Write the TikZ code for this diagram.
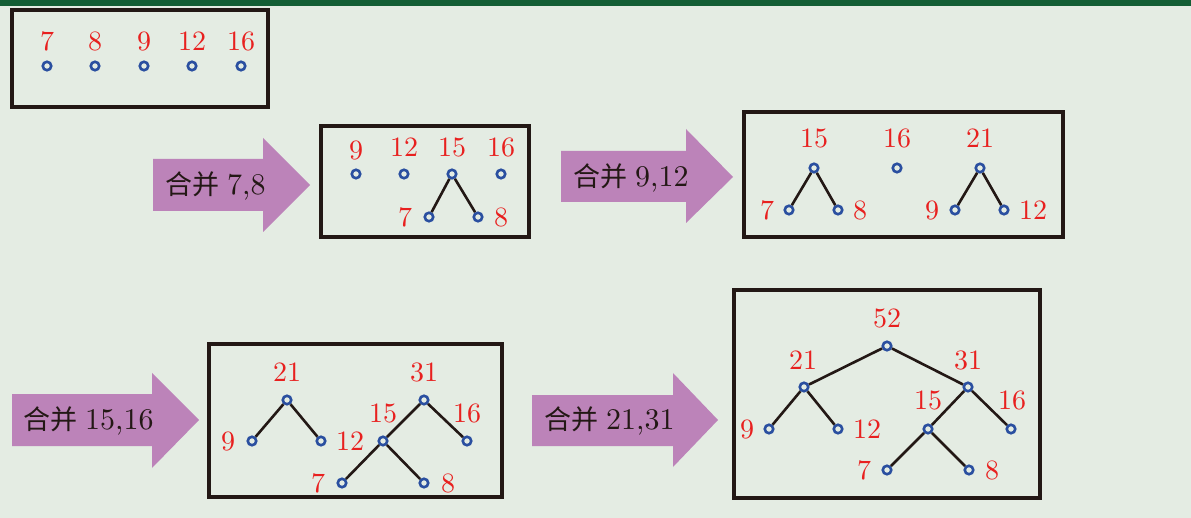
\documentclass[tikz,border=0pt]{standalone}
\usepackage{fontspec}
\newfontfamily\cjk{Noto Sans CJK SC}
\newfontfamily\lmten{lmroman10-regular.otf}
\definecolor{bg}{HTML}{E4ECE3}
\definecolor{topbar}{HTML}{135E35}
\definecolor{dotblue}{HTML}{2A4FA0}
\definecolor{lblred}{HTML}{E8201F}
\definecolor{ink}{HTML}{231815}
\definecolor{arrowpurple}{HTML}{BC83B9}
\newcommand{\arrowlbl}[1]{{\cjk\fontsize{27}{31}\selectfont 合并}\hspace{8pt}{\lmten\fontsize{30}{34}\selectfont #1}}
\tikzset{
  dot/.style={circle, draw=dotblue, line width=2.6pt, fill=bg, inner sep=0pt, minimum size=8.5pt},
  lbl/.style={text=lblred, font=\lmten\fontsize{28}{32}\selectfont, inner sep=0pt},
  edge/.style={draw=ink, line width=2.6pt},
  box/.style={draw=ink, line width=3.2pt},
  bigarrow/.style={fill=arrowpurple},
  arrowtext/.style={anchor=west, inner sep=0pt, text=ink}
}
\begin{document}
\begin{tikzpicture}[x=1pt,y=-1pt]
\fill[bg] (0,0) rectangle (1191,518);
\useasboundingbox (0,0) rectangle (1191,518);
\fill[topbar] (0,0) rectangle (1191,6);

% ---------- Box 1 ----------
\draw[box] (12,10) rectangle (268,107);
\foreach \x/\t/\n in {47/7/a, 95/8/b, 144/9/c, 192/12/d, 241/16/e}{
  \node[dot] (b1\n) at (\x,66) {};
  \node[lbl] (b1l\n) at (\x,41) {\t};
}

% ---------- Arrow 1 ----------
\fill[bigarrow] (153,159) -- (263,159) -- (263,138) -- (310,185) -- (263,232) -- (263,211) -- (153,211) -- cycle;
\node[arrowtext] (t1) at (165,186) {\arrowlbl{7,8}};

% ---------- Box 2 ----------
\draw[box] (321,126) rectangle (529,237);
\node[dot] (b2a) at (356,174) {};
\node[dot] (b2b) at (404,174) {};
\node[dot] (b2c) at (452,174) {};
\node[dot] (b2d) at (501,174) {};
\node[dot] (b2e) at (429,217) {};
\node[dot] (b2f) at (478,217) {};
\draw[edge] (b2c) -- (b2e);
\draw[edge] (b2c) -- (b2f);
\node[lbl] (b2la) at (356,150) {9};
\node[lbl] (b2lb) at (404,147) {12};
\node[lbl] (b2lc) at (452,147) {15};
\node[lbl] (b2ld) at (501,147) {16};
\node[lbl] (b2le) at (405,217) {7};
\node[lbl] (b2lf) at (501,217) {8};

% ---------- Arrow 2 ----------
\fill[bigarrow] (561,151) -- (686,151) -- (686,129) -- (733,177) -- (686,223) -- (686,202) -- (561,202) -- cycle;
\node[arrowtext] (t2) at (573,178) {\arrowlbl{9,12}};

% ---------- Box 3 ----------
\draw[box] (744,112) rectangle (1063,237);
\node[dot] (b3a) at (814,168) {};
\node[dot] (b3b) at (789,210) {};
\node[dot] (b3c) at (838,210) {};
\node[dot] (b3d) at (897,168) {};
\node[dot] (b3e) at (980,168) {};
\node[dot] (b3f) at (955,210) {};
\node[dot] (b3g) at (1004,210) {};
\draw[edge] (b3a) -- (b3b);
\draw[edge] (b3a) -- (b3c);
\draw[edge] (b3e) -- (b3f);
\draw[edge] (b3e) -- (b3g);
\node[lbl] (b3la) at (814,138) {15};
\node[lbl] (b3ld) at (897,138) {16};
\node[lbl] (b3le) at (980,138) {21};
\node[lbl] (b3lb) at (767,210) {7};
\node[lbl] (b3lc) at (860,210) {8};
\node[lbl] (b3lf) at (932,210) {9};
\node[lbl] (b3lg) at (1033,210) {12};

% ---------- Arrow 3 ----------
\fill[bigarrow] (12,394) -- (152,394) -- (152,373) -- (199,420) -- (152,468) -- (152,446) -- (12,446) -- cycle;
\node[arrowtext] (t3) at (23,421) {\arrowlbl{15,16}};

% ---------- Box 4 ----------
\draw[box] (209,344) rectangle (502,497);
\node[dot] (b4a) at (287,400) {};
\node[dot] (b4b) at (252,441) {};
\node[dot] (b4c) at (321,441) {};
\node[dot] (b4d) at (424,400) {};
\node[dot] (b4e) at (383,441) {};
\node[dot] (b4f) at (467,441) {};
\node[dot] (b4g) at (342,483) {};
\node[dot] (b4h) at (424,483) {};
\draw[edge] (b4a) -- (b4b);
\draw[edge] (b4a) -- (b4c);
\draw[edge] (b4d) -- (b4e);
\draw[edge] (b4d) -- (b4f);
\draw[edge] (b4e) -- (b4g);
\draw[edge] (b4e) -- (b4h);
\node[lbl] (b4la) at (287,372) {21};
\node[lbl] (b4lb) at (228,441) {9};
\node[lbl] (b4lc) at (350,441) {12};
\node[lbl] (b4ld) at (424,372) {31};
\node[lbl] (b4le) at (383,413) {15};
\node[lbl] (b4lf) at (467,413) {16};
\node[lbl] (b4lg) at (318,483) {7};
\node[lbl] (b4lh) at (448,483) {8};

% ---------- Arrow 4 ----------
\fill[bigarrow] (532,395) -- (673,395) -- (673,373) -- (718,420) -- (673,467) -- (673,446) -- (532,446) -- cycle;
\node[arrowtext] (t4) at (544,421) {\arrowlbl{21,31}};

% ---------- Box 5 ----------
\draw[box] (734,290) rectangle (1040,498);
\node[dot] (b5a) at (887,346) {};
\node[dot] (b5b) at (804,387) {};
\node[dot] (b5c) at (968,387) {};
\node[dot] (b5d) at (769,429) {};
\node[dot] (b5e) at (838,429) {};
\node[dot] (b5f) at (928,429) {};
\node[dot] (b5g) at (1011,429) {};
\node[dot] (b5h) at (887,470) {};
\node[dot] (b5i) at (969,470) {};
\draw[edge] (b5a) -- (b5b);
\draw[edge] (b5a) -- (b5c);
\draw[edge] (b5b) -- (b5d);
\draw[edge] (b5b) -- (b5e);
\draw[edge] (b5c) -- (b5f);
\draw[edge] (b5c) -- (b5g);
\draw[edge] (b5f) -- (b5h);
\draw[edge] (b5f) -- (b5i);
\node[lbl] (b5la) at (887,318) {52};
\node[lbl] (b5lb) at (803,360) {21};
\node[lbl] (b5lc) at (968,360) {31};
\node[lbl] (b5ld) at (747,429) {9};
\node[lbl] (b5le) at (867,429) {12};
\node[lbl] (b5lf) at (928,400) {15};
\node[lbl] (b5lg) at (1012,400) {16};
\node[lbl] (b5lh) at (864,470) {7};
\node[lbl] (b5li) at (992,470) {8};
\end{tikzpicture}
\end{document}
